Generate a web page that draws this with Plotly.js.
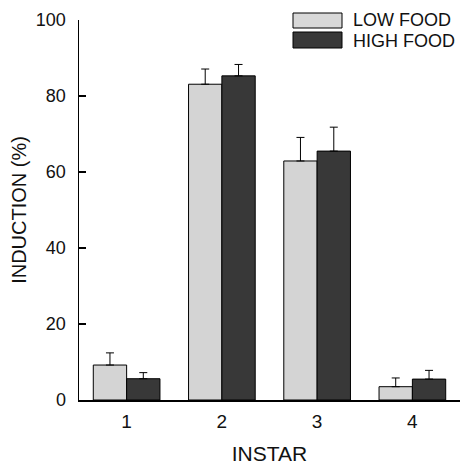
<!DOCTYPE html>
<html>
<head>
<meta charset="utf-8">
<script src="https://cdn.plot.ly/plotly-3.0.1.min.js"></script>
<style>html,body{margin:0;padding:0;background:#fff;}#chart{width:461px;height:465px;}</style>
</head>
<body>
<div id="chart"></div>
<script>
const instars = [1, 2, 3, 4];
const tickLabels = ['1', '2', '3', '4'];
const lowFood = [9.2, 83.1, 62.9, 3.5];
const lowFoodErr = [3.2, 4.0, 6.2, 2.3];
const highFood = [5.6, 85.3, 65.5, 5.5];
const highFoodErr = [1.6, 3.0, 6.3, 2.3];
const seriesNames = ['LOW FOOD', 'HIGH FOOD'];

const font = 'Arial, "Liberation Sans", Helvetica, sans-serif';
const zeros = instars.map(() => 0);

const traces = [
  {
    type: 'bar', x: instars, y: lowFood, name: seriesNames[0],
    marker: {color: '#d4d4d4', line: {color: '#000', width: 1}},
    error_y: {type: 'data', array: lowFoodErr, arrayminus: zeros, symmetric: false, color: '#000', thickness: 1, width: 4},
    showlegend: false
  },
  {
    type: 'bar', x: instars, y: highFood, name: seriesNames[1],
    marker: {color: '#383838', line: {color: '#000', width: 1}},
    error_y: {type: 'data', array: highFoodErr, arrayminus: zeros, symmetric: false, color: '#000', thickness: 1, width: 4},
    showlegend: false
  }
];

// legend drawn in paper coords (plot area: x 79..460, y 20..400 px)
const px = v => (v - 79) / 381;
const py = v => (400 - v) / 380;

const layout = {
  width: 461, height: 465,
  margin: {l: 79, r: 1, t: 20, b: 65},
  paper_bgcolor: '#fff', plot_bgcolor: '#fff',
  font: {family: font, color: '#111', size: 18},
  barmode: 'group', bargap: 0.3, bargroupgap: 0,
  showlegend: false,
  xaxis: {
    range: [0.5, 4.5], tickvals: instars, ticktext: tickLabels,
    showline: true, linecolor: '#000', linewidth: 2, ticks: '', showgrid: false, zeroline: false,
    tickfont: {size: 19}, ticklabelstandoff: 3,
    title: {text: 'INSTAR', font: {size: 21}, standoff: 22}
  },
  yaxis: {
    range: [0, 100], tickvals: [0, 20, 40, 60, 80, 100],
    showline: true, linecolor: '#000', linewidth: 1.5, ticks: 'inside', ticklen: 7, tickcolor: '#000', tickwidth: 1.5,
    showgrid: false, zeroline: false,
    tickfont: {size: 18}, ticklabelstandoff: 8,
    title: {text: 'INDUCTION (%)', font: {size: 20}, standoff: 4}
  },
  shapes: [
    {type: 'rect', xref: 'paper', yref: 'paper', x0: px(293), x1: px(342), y0: py(28), y1: py(13), fillcolor: '#d8d8d8', line: {color: '#000', width: 1}},
    {type: 'rect', xref: 'paper', yref: 'paper', x0: px(293), x1: px(342), y0: py(48), y1: py(32), fillcolor: '#383838', line: {color: '#000', width: 1}}
  ],
  annotations: [
    {xref: 'paper', yref: 'paper', x: px(352), y: py(20.5), xanchor: 'left', yanchor: 'middle', text: seriesNames[0], showarrow: false, borderpad: 0, font: {size: 18}},
    {xref: 'paper', yref: 'paper', x: px(352), y: py(40.5), xanchor: 'left', yanchor: 'middle', text: seriesNames[1], showarrow: false, borderpad: 0, font: {size: 18}}
  ]
};

Plotly.newPlot('chart', traces, layout, {displayModeBar: false, staticPlot: true});
</script>
</body>
</html>
